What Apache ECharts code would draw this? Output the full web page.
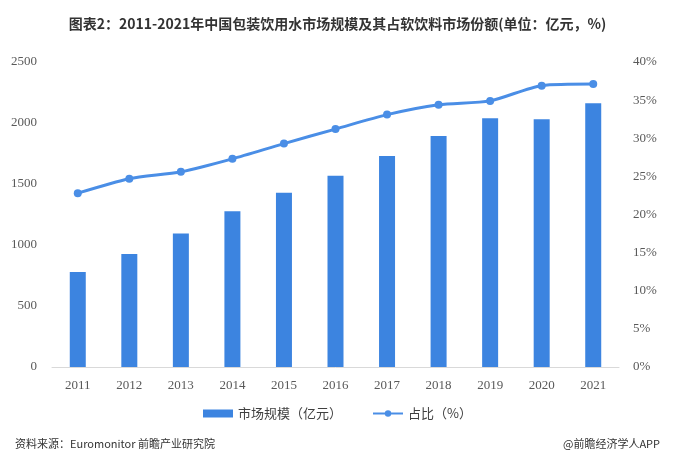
<!DOCTYPE html>
<html><head><meta charset="utf-8">
<script src="https://cdn.jsdelivr.net/npm/echarts@6/dist/echarts.min.js"></script>
<style>html,body{margin:0;padding:0;background:#fff}#c{width:675px;height:464px}</style>
</head><body><div id="c"></div>
<script>
const years = ['2011','2012','2013','2014','2015','2016','2017','2018','2019','2020','2021'];
const marketSize = [779, 926, 1095, 1276, 1429, 1568, 1730, 1893, 2038, 2030, 2161];
const share = [22.8, 24.7, 25.6, 27.3, 29.3, 31.2, 33.1, 34.4, 34.9, 36.9, 37.1];
const leftTicks = [0, 500, 1000, 1500, 2000, 2500];
const rightTicks = [0, 5, 10, 15, 20, 25, 30, 35, 40];
const titleText = '图表2：2011-2021年中国包装饮用水市场规模及其占软饮料市场份额(单位：亿元，%)';
const sourceText = '资料来源：Euromonitor 前瞻产业研究院';
const creditText = '@前瞻经济学人APP';

const chart = echarts.init(document.getElementById('c'), null, {renderer:'canvas'});
const axisFont = {color:'#595959', fontSize:13, fontFamily:'Liberation Serif, serif'};
chart.setOption({
  animation:false,
  title:[
    {text:titleText, left:'center', top:12, textStyle:{fontSize:14, fontWeight:'bold', color:'#333', fontFamily:'Noto Sans CJK SC'}},
    {text:sourceText, left:10, top:433, textStyle:{fontSize:11, fontWeight:'normal', color:'#333', fontFamily:'Noto Sans CJK SC'}},
    {text:creditText, right:10, top:433, textStyle:{fontSize:11, fontWeight:'normal', color:'#333', fontFamily:'Noto Sans CJK SC'}}
  ],
  legend:{
    top:402, left:'center', itemGap:30, itemWidth:30, itemHeight:8,
    textStyle:{fontSize:13, color:'#404040', fontFamily:'Noto Sans CJK SC'},
    data:[{name:'市场规模（亿元）', icon:'rect'}, {name:'占比（%）'}]
  },
  grid:{left:52, right:56, top:62, bottom:97},
  xAxis:{
    type:'category', data:years,
    axisLine:{lineStyle:{color:'#d9d9d9'}}, axisTick:{show:false},
    axisLabel:Object.assign({margin:12}, axisFont)
  },
  yAxis:[
    {type:'value', min:leftTicks[0], max:leftTicks[leftTicks.length-1], interval:500,
     splitLine:{show:false}, axisLine:{show:false}, axisTick:{show:false},
     axisLabel:Object.assign({margin:15, formatter:function(v){return String(v);}}, axisFont)},
    {type:'value', min:rightTicks[0], max:rightTicks[rightTicks.length-1], interval:5,
     splitLine:{show:false}, axisLine:{show:false}, axisTick:{show:false},
     axisLabel:Object.assign({margin:14, formatter:'{value}%'}, axisFont)}
  ],
  series:[
    {name:'市场规模（亿元）', type:'bar', data:marketSize, barWidth:16,
     itemStyle:{color:'#3c84e0'}},
    {name:'占比（%）', type:'line', yAxisIndex:1, data:share, smooth:0.25,
     symbol:'circle', symbolSize:8,
     lineStyle:{width:3, color:'#4a8ee6'}, itemStyle:{color:'#4a8ee6'}}
  ]
});
</script></body></html>
